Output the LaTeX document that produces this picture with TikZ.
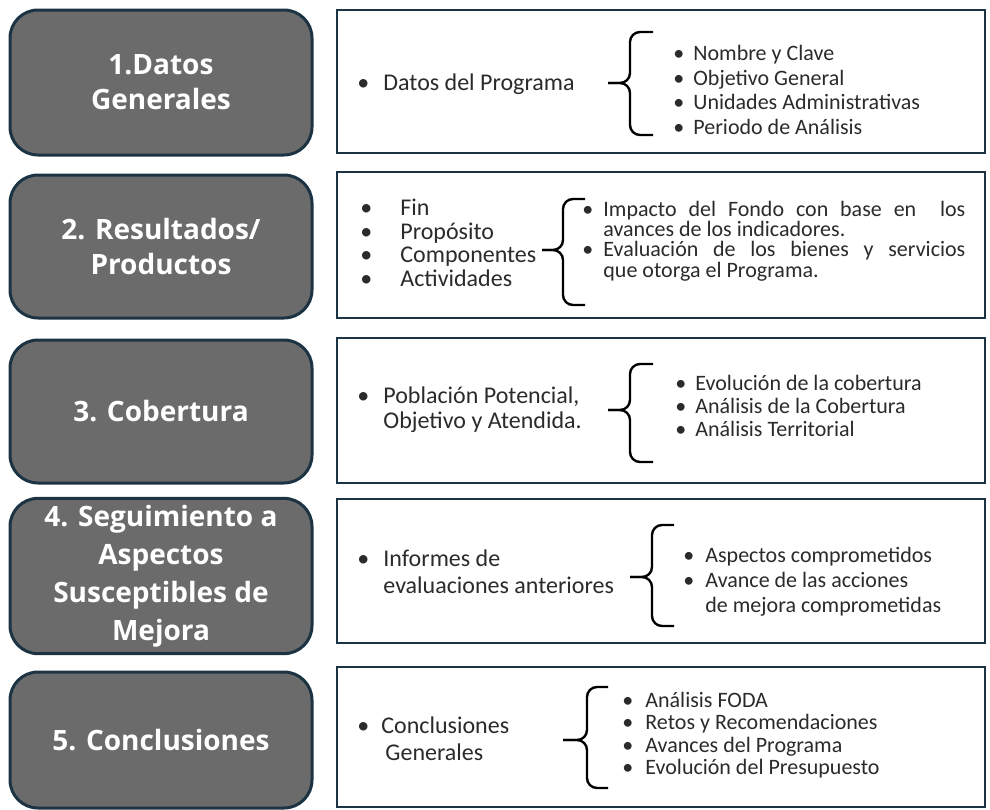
\documentclass[tikz,border=0pt]{standalone}
\usepackage{fontspec}
\setmainfont{Carlito}
\newfontfamily\titulofont{Open Sans}
\definecolor{gris}{HTML}{6B6B6B}
\definecolor{borde}{HTML}{1C3344}
\definecolor{texto}{HTML}{2B2B2B}
\tikzset{
  seccion/.style={draw=borde, line width=1.5pt, fill=gris, rounded corners=14pt,
    minimum width=151pt, text=white, align=center,
    font=\titulofont\bfseries\fontsize{14}{17.5}\selectfont},
  contenido/.style={draw=borde, line width=1.2pt, fill=white, minimum width=324pt},
  lista/.style={anchor=west, inner sep=0pt, align=left, text=texto,
    font=\fontsize{11}{12.3}\selectfont},
  tema/.style={lista, font=\fontsize{12}{12.5}\selectfont},
  llave/.style={line width=1.2pt, rounded corners=5pt},
}

\begin{document}
\begin{tikzpicture}[x=0.5pt, y=-0.5pt]
\useasboundingbox (0,0) rectangle (990,809);

% secciones
\node[seccion, minimum height=72.5pt] (datos) at (161,82.5) {1.Datos\\Generales};
\node[seccion, minimum height=71.5pt] (resultados) at (161,246.5) {2. Resultados/\\Productos};
\node[seccion, minimum height=71.5pt] (cobertura) at (161,411.5) {3. Cobertura};
\node[seccion, minimum height=76pt, font=\titulofont\bfseries\fontsize{14}{19}\selectfont]
  (seguimiento) at (161,576) {4. Seguimiento a\\Aspectos\\Susceptibles de\\Mejora};
\node[seccion, minimum height=68pt] (conclusiones) at (161,740) {5. Conclusiones};

% contenidos
\node[contenido, minimum height=71.5pt] (datosC) at (661,81.5) {};
\node[contenido, minimum height=73pt] (resultadosC) at (661,245) {};
\node[contenido, minimum height=72.5pt] (coberturaC) at (661,410.5) {};
\node[contenido, minimum height=72pt] (seguimientoC) at (661,571) {};
\node[contenido, minimum height=70pt] (conclusionesC) at (661,737) {};

% 1
\node[tema] (programa) at (357,84) {\makebox[13pt][l]{•}Datos del Programa};
\draw[llave] (653,32) -- (630,32) -- (630,83) -- (608,83);
\draw[llave] (653,135) -- (630,135) -- (630,83) -- (608,83);
\node[lista] (datosItems) at (673,90) {\makebox[10pt][l]{•}Nombre y Clave\\
  \makebox[10pt][l]{•}Objetivo General\\
  \makebox[10pt][l]{•}Unidades Administrativas\\
  \makebox[10pt][l]{•}Periodo de Análisis};

% 2
\node[tema, font=\fontsize{12}{11.8}\selectfont] (niveles) at (360,243) {\makebox[20pt][l]{•}Fin\\
  \makebox[20pt][l]{•}Propósito\\
  \makebox[20pt][l]{•}Componentes\\
  \makebox[20pt][l]{•}Actividades};
\draw[llave] (585,199) -- (563,199) -- (563,250) -- (542,250);
\draw[llave] (585,305) -- (563,305) -- (563,250) -- (542,250);
\node[lista, font=\fontsize{11}{10.2}\selectfont] (resultadosItems) at (582,241)
  {\makebox[10.5pt][l]{•}\makebox[181pt][s]{Impacto del Fondo con base en\ \ los}\\
  \hspace*{10.5pt}avances de los indicadores.\\
  \makebox[10.5pt][l]{•}\makebox[181pt][s]{Evaluación de los bienes y servicios}\\
  \hspace*{10.5pt}que otorga el Programa.};

% 3
\node[tema] (poblacion) at (357,410) {\makebox[13pt][l]{•}Población Potencial,\\
  \hspace*{13pt}Objetivo y Atendida.};
\draw[llave] (653,364) -- (630,364) -- (630,410) -- (608,410);
\draw[llave] (653,462) -- (630,462) -- (630,410) -- (608,410);
\node[lista, font=\fontsize{11}{11.5}\selectfont] (coberturaItems) at (675,406) {\makebox[10pt][l]{•}Evolución de la cobertura\\
  \makebox[10pt][l]{•}Análisis de la Cobertura\\
  \makebox[10pt][l]{•}Análisis Territorial};

% 4
\node[tema, font=\fontsize{12}{13.5}\selectfont] (informes) at (357,572) {\makebox[13pt][l]{•}Informes de\\
  \hspace*{13pt}evaluaciones anteriores};
\draw[llave] (674,525) -- (652,525) -- (652,577) -- (630,577);
\draw[llave] (674,626) -- (652,626) -- (652,577) -- (630,577);
\node[lista, font=\fontsize{11}{12.5}\selectfont] (seguimientoItems) at (683,582) {\makebox[11pt][l]{•}Aspectos comprometidos\\
  \makebox[11pt][l]{•}Avance de las acciones\\
  \hspace*{11pt}de mejora comprometidas};

% 5
\node[tema, font=\fontsize{12}{13.5}\selectfont] (generales) at (357,739) {\makebox[12pt][l]{•}Conclusiones\\
  \hspace*{14pt}Generales};
\draw[llave] (608,687) -- (587,687) -- (587,740) -- (563,740);
\draw[llave] (608,788) -- (587,788) -- (587,740) -- (563,740);
\node[lista, font=\fontsize{11}{11.2}\selectfont] (conclusionesItems) at (622,735) {\makebox[11.5pt][l]{•}Análisis FODA\\
  \makebox[11.5pt][l]{•}Retos y Recomendaciones\\
  \makebox[11.5pt][l]{•}Avances del Programa\\
  \makebox[11.5pt][l]{•}Evolución del Presupuesto};
\end{tikzpicture}
\end{document}
